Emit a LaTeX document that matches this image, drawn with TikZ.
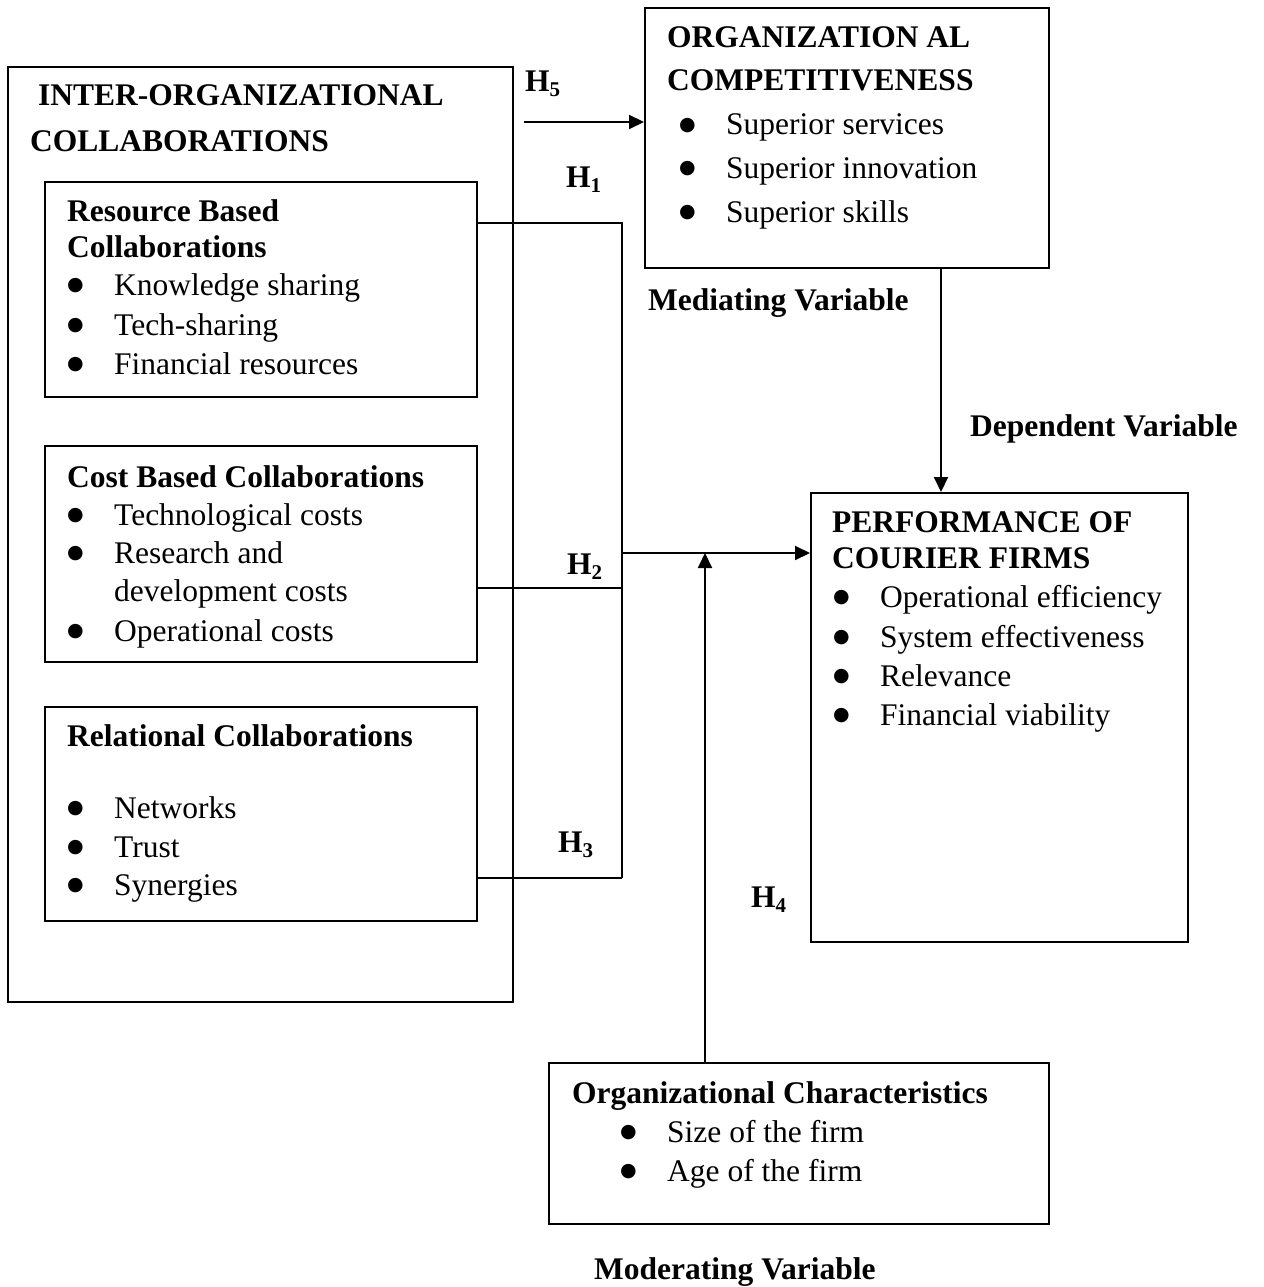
\documentclass[tikz,border=0pt]{standalone}
\usepackage{fontspec}
\setmainfont{Liberation Serif}
\newfontfamily\dejavu{DejaVu Sans}
\usetikzlibrary{arrows.meta}
\newcommand{\hsub}[1]{H\raisebox{-5pt}{\fontsize{21}{21}\selectfont #1}}
\newcommand{\bigbul}{\raisebox{4.5pt}{\dejavu\fontsize{19}{19}\selectfont ●}}
\newcommand{\bitem}[1]{\makebox[47pt][l]{\bigbul}#1}
\begin{document}
\begin{tikzpicture}[x=1pt,y=-1pt,
  box/.style={draw,line width=2pt,rectangle,inner sep=0pt},
  txt/.style={anchor=base west,inner sep=0pt,font=\fontsize{31.5}{38}\selectfont},
  btxt/.style={txt,font=\fontsize{31.5}{38}\selectfont\bfseries},
  conn/.style={line width=2pt},
  arr/.style={line width=2pt,-{Triangle[length=15pt,width=14pt]}}]
\useasboundingbox (0,0) rectangle (1263,1287);
\fill[white] (0,0) rectangle (1263,1287);

% boxes
\node[box,minimum width=505pt,minimum height=935pt] (outer) at (260.5,534.5) {};
\node[box,minimum width=432pt,minimum height=215pt] (res) at (261,289.5) {};
\node[box,minimum width=432pt,minimum height=216pt] (cost) at (261,554) {};
\node[box,minimum width=432pt,minimum height=214pt] (rel) at (261,814) {};
\node[box,minimum width=404pt,minimum height=260pt] (comp) at (847,138) {};
\node[box,minimum width=377pt,minimum height=449pt] (perf) at (999.5,717.5) {};
\node[box,minimum width=500pt,minimum height=161pt] (orgc) at (799,1143.5) {};

% outer title
\node[btxt] (o1) at (38,106) {INTER-ORGANIZATIONAL};
\node[btxt] (o2) at (30,151) {COLLABORATIONS};

% resource box
\node[btxt] (r1) at (67,221) {Resource Based};
\node[btxt] (r2) at (67,257) {Collaborations};
\node[txt] (r3) at (67,295) {\bitem{Knowledge sharing}};
\node[txt] (r4) at (67,335) {\bitem{Tech-sharing}};
\node[txt] (r5) at (67,374) {\bitem{Financial resources}};

% cost box
\node[btxt] (c1) at (67,487) {Cost Based Collaborations};
\node[txt] (c2) at (67,525) {\bitem{Technological costs}};
\node[txt] (c3) at (67,563) {\bitem{Research and}};
\node[txt] (c4) at (114,601) {development costs};
\node[txt] (c5) at (67,641) {\bitem{Operational costs}};

% relational box
\node[btxt] (l1) at (67,746) {Relational Collaborations};
\node[txt] (l2) at (67,818) {\bitem{Networks}};
\node[txt] (l3) at (67,857) {\bitem{Trust}};
\node[txt] (l4) at (67,895) {\bitem{Synergies}};

% competitiveness box
\node[btxt] (m1) at (667,48) {ORGANIZATION AL};
\node[btxt] (m2) at (667,91) {COMPETITIVENESS};
\node[txt] (m3) at (679,135) {\bitem{Superior services}};
\node[txt] (m4) at (679,178) {\bitem{Superior innovation}};
\node[txt] (m5) at (679,222) {\bitem{Superior skills}};
\node[btxt] (mv) at (648,310) {Mediating Variable};

% performance box
\node[btxt] (dv) at (970,436) {Dependent Variable};
\node[btxt] (p1) at (832,532) {PERFORMANCE OF};
\node[btxt] (p2) at (832,568) {COURIER FIRMS};
\node[txt] (p3) at (833,607) {\bitem{Operational efficiency}};
\node[txt] (p4) at (833,647) {\bitem{System effectiveness}};
\node[txt] (p5) at (833,686) {\bitem{Relevance}};
\node[txt] (p6) at (833,725) {\bitem{Financial viability}};

% org characteristics
\node[btxt] (g1) at (572,1103) {Organizational Characteristics};
\node[txt] (g2) at (620,1142) {\bitem{Size of the firm}};
\node[txt] (g3) at (620,1181) {\bitem{Age of the firm}};
\node[btxt] (modv) at (594,1279) {Moderating Variable};

% hypothesis labels
\node[btxt] (h5) at (525,92) {\hsub{5}};
\node[btxt] (h1) at (566,187) {\hsub{1}};
\node[btxt] (h2) at (567,574) {\hsub{2}};
\node[btxt] (h3) at (558,852) {\hsub{3}};
\node[btxt] (h4) at (751,907) {\hsub{4}};

% connectors
\coordinate (h5s) at (524,122);
\coordinate (j1) at (622,223);
\coordinate (j2) at (622,588);
\coordinate (j3) at (622,878);
\coordinate (jm) at (622,553);
\coordinate (mx) at (705,553);
\coordinate (dx) at (941,0);

\draw[arr] (h5s) -- (h5s -| comp.west);
\draw[conn] (res.east |- j1) -- (j1) -- (j3);
\draw[conn] (cost.east |- j2) -- (j2);
\draw[conn] (rel.east |- j3) -- (j3);
\draw[arr] (jm) -- (perf.west |- jm);
\draw[arr] (orgc.north -| mx) -- (mx);
\draw[arr] (comp.south -| dx) -- (perf.north -| dx);
\end{tikzpicture}
\end{document}
